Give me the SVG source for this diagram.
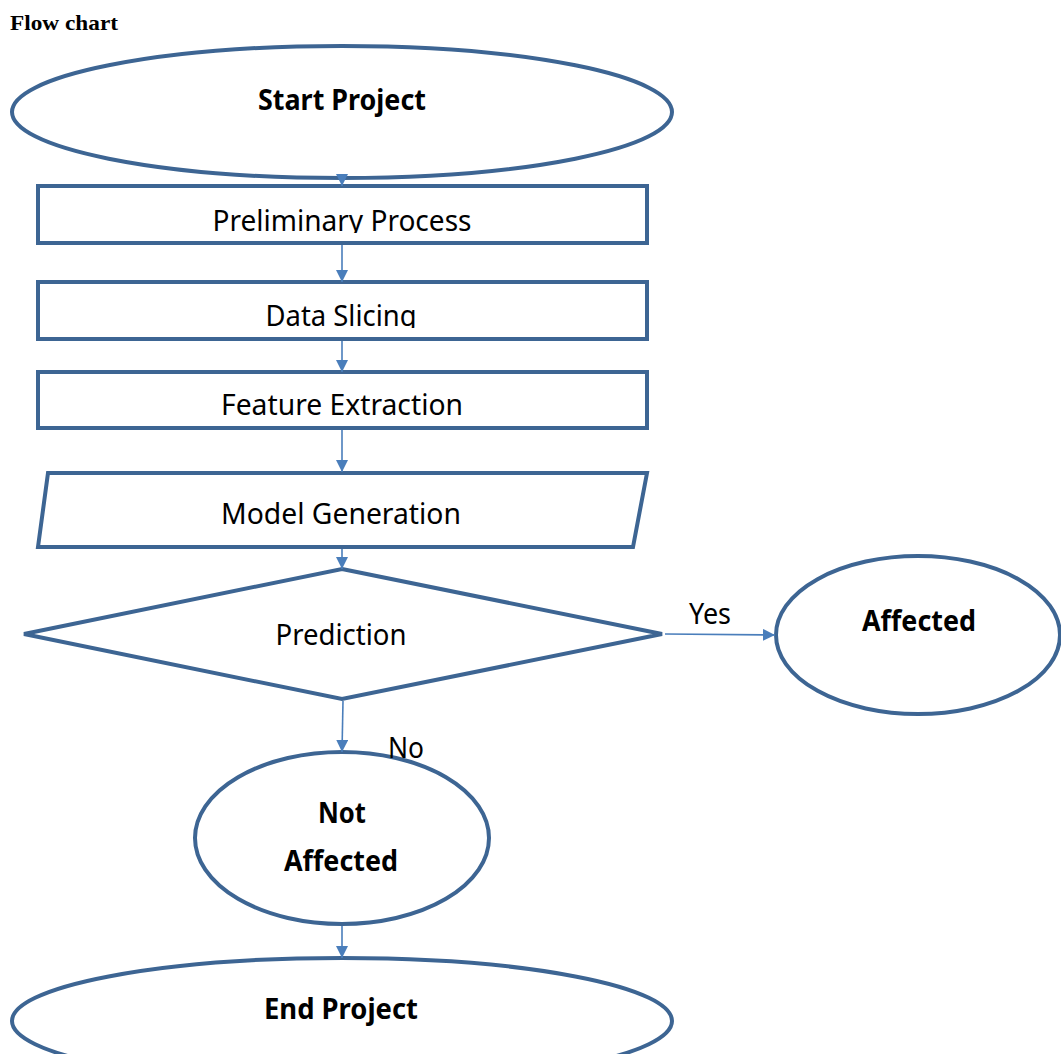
<svg xmlns="http://www.w3.org/2000/svg" width="1061" height="1054" viewBox="0 0 1061 1054">
<defs>
<style>
.shape{fill:#fff;stroke:#3D6593;stroke-width:4}
.conn{fill:none;stroke:#4A7EBB;stroke-width:1.6}
.t{font-family:"Noto Sans","Open Sans",sans-serif;font-size:29px;fill:#000;text-anchor:middle}
.b{font-weight:bold}
.title{font-family:"Liberation Serif",serif;font-weight:bold;font-size:21px;fill:#000}
</style>
<marker id="arr" viewBox="0 0 10 10" refX="10" refY="5" markerWidth="12" markerHeight="12" markerUnits="userSpaceOnUse" orient="auto">
<path d="M0,0 L10,5 L0,10 z" fill="#4A7EBB"/>
</marker>
<clipPath id="c1"><rect x="40" y="188" width="605" height="45"/></clipPath>
<clipPath id="c2"><rect x="40" y="284" width="605" height="44"/></clipPath>
</defs>
<rect width="1061" height="1054" fill="#fff"/>
<text class="title" x="10" y="30" textLength="108" lengthAdjust="spacingAndGlyphs">Flow chart</text>

<g id="start">
<ellipse class="shape" cx="342" cy="112" rx="330" ry="66"/>
<text class="t b" x="342" y="110" textLength="168" lengthAdjust="spacingAndGlyphs">Start Project</text>
</g>
<g id="preliminary">
<rect class="shape" x="38" y="186" width="609" height="57"/>
<text class="t" x="342" y="231" clip-path="url(#c1)" textLength="259" lengthAdjust="spacingAndGlyphs">Preliminary  Process</text>
</g>
<g id="slicing">
<rect class="shape" x="38" y="282" width="609" height="57"/>
<text class="t" x="341" y="326" clip-path="url(#c2)" textLength="151" lengthAdjust="spacingAndGlyphs">Data Slicing</text>
</g>
<g id="feature">
<rect class="shape" x="38" y="372" width="609" height="56"/>
<text class="t" x="342" y="415" textLength="242" lengthAdjust="spacingAndGlyphs">Feature Extraction</text>
</g>
<g id="model">
<polygon class="shape" points="48,473 647,473 633,547 38,547"/>
<text class="t" x="341" y="524" textLength="240" lengthAdjust="spacingAndGlyphs">Model Generation</text>
</g>
<g id="prediction">
<polygon class="shape" points="342,569 662,634 342,699 24,634"/>
<text class="t" x="341" y="645" textLength="131" lengthAdjust="spacingAndGlyphs">Prediction</text>
</g>
<g id="affected">
<ellipse class="shape" cx="918" cy="635" rx="142" ry="79"/>
<text class="t b" x="919" y="631" textLength="114" lengthAdjust="spacingAndGlyphs">Affected</text>
</g>
<g id="notaffected">
<ellipse class="shape" cx="342" cy="838" rx="147" ry="86"/>
<text class="t b" x="342" y="823" textLength="48" lengthAdjust="spacingAndGlyphs">Not</text>
<text class="t b" x="341" y="871" textLength="114" lengthAdjust="spacingAndGlyphs">Affected</text>
</g>
<g id="end">
<ellipse class="shape" cx="342" cy="1021" rx="330" ry="63"/>
<text class="t b" x="341" y="1019" textLength="154" lengthAdjust="spacingAndGlyphs">End Project</text>
</g>

<g id="connectors">
<line class="conn" x1="342" y1="176" x2="342" y2="186" marker-end="url(#arr)"/>
<line class="conn" x1="342" y1="245" x2="342" y2="282" marker-end="url(#arr)"/>
<line class="conn" x1="342" y1="341" x2="342" y2="372" marker-end="url(#arr)"/>
<line class="conn" x1="342" y1="430" x2="342" y2="472" marker-end="url(#arr)"/>
<line class="conn" x1="342" y1="549" x2="342" y2="569" marker-end="url(#arr)"/>
<line class="conn" x1="665" y1="634" x2="775" y2="635" marker-end="url(#arr)"/>
<line class="conn" x1="343" y1="701" x2="342" y2="752" marker-end="url(#arr)"/>
<line class="conn" x1="342" y1="926" x2="342" y2="958" marker-end="url(#arr)"/>
<text class="t" x="710" y="624" font-size="27" textLength="42" lengthAdjust="spacingAndGlyphs">Yes</text>
<text class="t" x="406" y="758" font-size="27" textLength="36" lengthAdjust="spacingAndGlyphs">No</text>
</g>
</svg>
